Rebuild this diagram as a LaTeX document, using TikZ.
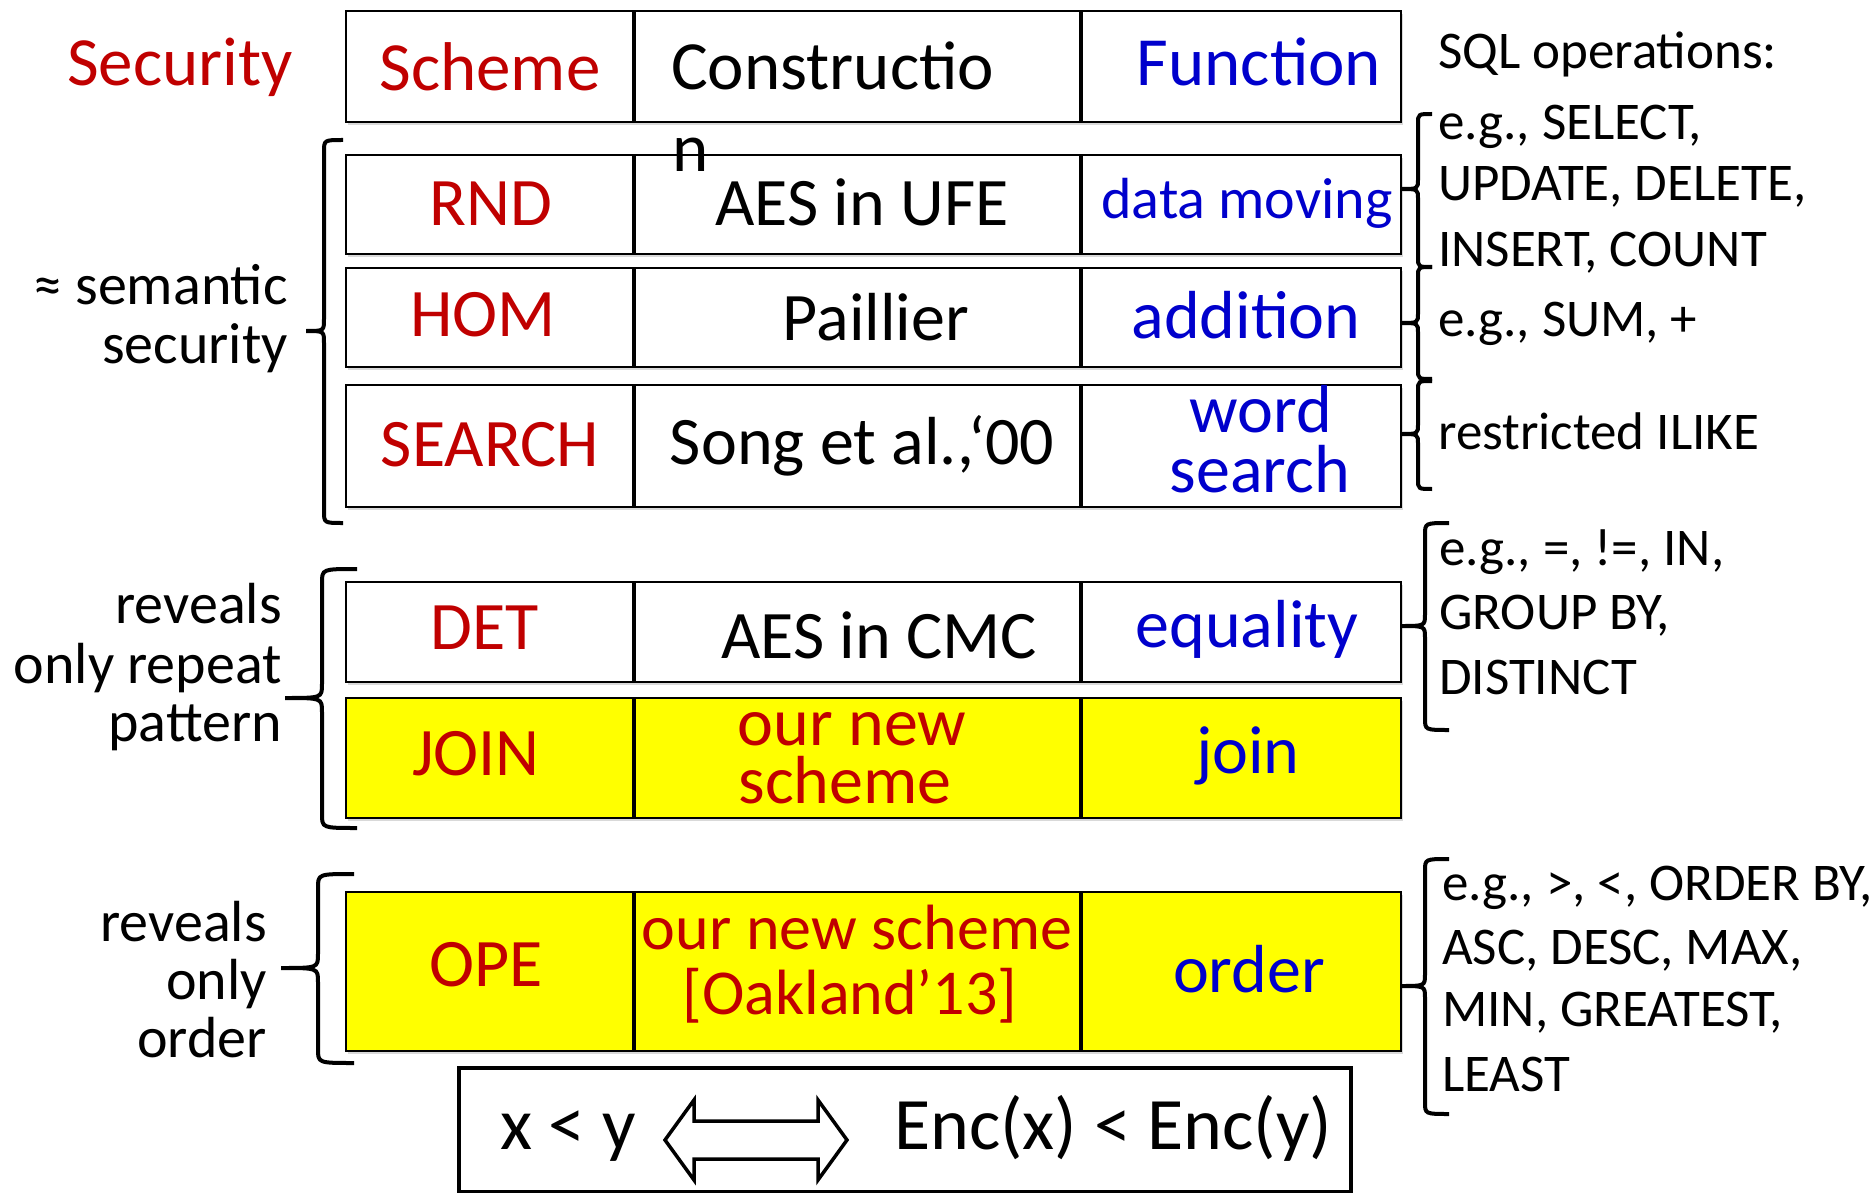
\documentclass[tikz,border=0pt]{standalone}
\usepackage{fontspec}
\setmainfont{Carlito}
\usetikzlibrary{shadows}
\definecolor{myred}{RGB}{192,0,0}
\definecolor{myblue}{RGB}{0,0,204}
\definecolor{myyellow}{RGB}{255,255,0}
\newcommand\bracepath[7]{% xend, xv, top, tipx, mid, bot, r
  \draw[bracestyle] (#1,#3) .. controls (#2,#3) .. (#2,{#3+#7}) -- (#2,{#5-#7})
    .. controls (#2,#5) .. (#4,#5) .. controls (#2,#5) .. (#2,{#5+#7})
    -- (#2,{#6-#7}) .. controls (#2,#6) .. (#1,#6);}
\begin{document}
\begin{tikzpicture}[x=1pt,y=-1pt,
  cell/.style={draw=black, line width=2pt, anchor=north west, inner sep=0pt, outer sep=0pt,
    drop shadow={shadow xshift=2pt, shadow yshift=-3pt, opacity=0.25, fill=black!60}},
  wcell/.style={cell, fill=white},
  ycell/.style={cell, fill=myyellow},
  divider/.style={line width=4.5pt, draw=black},
  bracestyle/.style={line width=4pt, draw=black},
  hdr/.style={inner sep=0pt, anchor=base, font=\fontsize{69}{83}\selectfont},
  big/.style={inner sep=0pt, anchor=base, font=\fontsize{68}{82}\selectfont},
  smallbig/.style={inner sep=0pt, anchor=base, font=\fontsize{64}{76}\selectfont},
  mid/.style={inner sep=0pt, anchor=base, font=\fontsize{58}{60}\selectfont},
  side/.style={inner sep=0pt, anchor=base east, font=\fontsize{58}{58}\selectfont},
  sql/.style={inner sep=0pt, anchor=base west, font=\fontsize{53}{62}\selectfont},
  bot/.style={inner sep=0pt, anchor=base west, font=\fontsize{74}{88}\selectfont},
]
\useasboundingbox (0,0) rectangle (1875,1193);

% ---------- table cells ----------
\node[wcell, minimum width=288pt, minimum height=111pt] (h1) at (346,11) {};
\node[wcell, minimum width=447pt, minimum height=111pt] (h2) at (634,11) {};
\node[wcell, minimum width=320pt, minimum height=111pt] (h3) at (1081,11) {};

\node[wcell, minimum width=288pt, minimum height=99pt] (a1) at (346,155) {};
\node[wcell, minimum width=447pt, minimum height=99pt] (a2) at (634,155) {};
\node[wcell, minimum width=320pt, minimum height=99pt] (a3) at (1081,155) {};

\node[wcell, minimum width=288pt, minimum height=99pt] (b1) at (346,268) {};
\node[wcell, minimum width=447pt, minimum height=99pt] (b2) at (634,268) {};
\node[wcell, minimum width=320pt, minimum height=99pt] (b3) at (1081,268) {};

\node[wcell, minimum width=288pt, minimum height=122pt] (c1) at (346,385) {};
\node[wcell, minimum width=447pt, minimum height=122pt] (c2) at (634,385) {};
\node[wcell, minimum width=320pt, minimum height=122pt] (c3) at (1081,385) {};

\node[wcell, minimum width=288pt, minimum height=100pt] (d1) at (346,582) {};
\node[wcell, minimum width=447pt, minimum height=100pt] (d2) at (634,582) {};
\node[wcell, minimum width=320pt, minimum height=100pt] (d3) at (1081,582) {};

\node[ycell, minimum width=288pt, minimum height=120pt] (e1) at (346,698) {};
\node[ycell, minimum width=447pt, minimum height=120pt] (e2) at (634,698) {};
\node[ycell, minimum width=320pt, minimum height=120pt] (e3) at (1081,698) {};

\node[ycell, minimum width=288pt, minimum height=159pt] (f1) at (346,892) {};
\node[ycell, minimum width=447pt, minimum height=159pt] (f2) at (634,892) {};
\node[ycell, minimum width=320pt, minimum height=159pt] (f3) at (1081,892) {};

\foreach \r in {h,a,b,c,d,e,f}{
  \draw[divider] (\r1.north east) -- (\r1.south east);
  \draw[divider] (\r2.north east) -- (\r2.south east);
}

% ---------- bottom box ----------
\node[draw=black, line width=4pt, fill=white, anchor=north west, inner sep=0pt,
      minimum width=892pt, minimum height=124pt] (bbox) at (457,1066) {};
\draw[line width=3.5pt, fill=white, line join=miter]
  (665,1140) -- (694,1100) -- (694,1121) -- (818,1121) -- (818,1100) -- (847,1140)
  -- (818,1180) -- (818,1159) -- (694,1159) -- (694,1180) -- cycle;
\node[bot] (xy) at (500,1149) {x < y};
\node[bot] (encxy) at (894,1149) {Enc(x) < Enc(y)};

% ---------- header texts ----------
\node[hdr, text=myred] (tsec) at (180,86) {Security};
\node[hdr, text=myred] (tsch) at (490,91) {Scheme};
\node[hdr, anchor=base west] (tcon) at (671,90) {Constructio};
\node[hdr, anchor=base west] (tconn) at (672,172) {n};
\node[hdr, text=myblue] (tfun) at (1259,86) {Function};

% ---------- row texts ----------
\node[big, text=myred] (trnd) at (491,226) {RND};
\node[big] (tufe) at (862,226) {AES in UFE};
\node[mid, text=myblue] (tdm) at (1247,219) {data moving};

\node[big, text=myred] (thom) at (483,336) {HOM};
\node[big] (tpai) at (876,340) {Paillier};
\node[big, text=myblue] (tadd) at (1246,338) {addition};

\node[big, text=myred] (tsea) at (490,466) {SEARCH};
\node[big] (tsong) at (862,464) {Song et al.,‘00};
\node[big, text=myblue] (tword) at (1261,432) {word};
\node[big, text=myblue] (tsrch) at (1260,492) {search};

\node[big, text=myred] (tdet) at (485,649) {DET};
\node[big] (tcmc) at (879,658) {AES in CMC};
\node[big, text=myblue] (teq) at (1247,647) {equality};

\node[big, text=myred] (tjoin) at (476,775) {JOIN};
\node[big, text=myred] (tonew) at (852,745) {our new};
\node[big, text=myred] (tosch) at (845,803) {scheme};
\node[big, text=myblue] (tjn) at (1248,773) {join};

\node[big, text=myred] (tope) at (486,986) {OPE};
\node[smallbig, text=myred] (tons) at (857,949) {our new scheme};
\node[smallbig, text=myred] (toak) at (850,1014) {[Oakland’13]};
\node[big, text=myblue] (tord) at (1249,992) {order};

% ---------- left side labels ----------
\node[side] (ls1) at (288,305) {≈ semantic};
\node[side] (ls2) at (288,363) {security};
\node[side] (lr1) at (282,623) {reveals};
\node[side] (lr2) at (282,683) {only repeat};
\node[side] (lr3) at (282,741) {pattern};
\node[side] (lo1) at (267,941) {reveals};
\node[side] (lo2) at (267,999) {only};
\node[side] (lo3) at (267,1057) {order};

% ---------- right side SQL labels ----------
\node[sql] (q0) at (1438,69) {SQL operations:};
\node[sql] (q1) at (1438,140) {e.g., SELECT,};
\node[sql] (q2) at (1438,201) {UPDATE, DELETE,};
\node[sql] (q3) at (1438,267) {INSERT, COUNT};
\node[sql] (q4) at (1438,336) {e.g., SUM, +};
\node[sql] (q5) at (1438,449) {restricted ILIKE};
\node[sql] (q6) at (1439,565) {e.g., =, !=, IN,};
\node[sql] (q7) at (1439,629) {GROUP BY,};
\node[sql] (q8) at (1439,694) {DISTINCT};
\node[sql] (q9) at (1442,900) {e.g., >, <, ORDER BY,};
\node[sql] (q10) at (1442,964) {ASC, DESC, MAX,};
\node[sql] (q11) at (1442,1026) {MIN, GREATEST,};
\node[sql] (q12) at (1442,1091) {LEAST};

% ---------- braces ----------
\bracepath{343}{324}{140}{306}{331}{523}{12}
\bracepath{357}{322}{569}{285}{698}{828}{14}
\bracepath{354}{318}{874}{281}{968}{1063}{14}
\bracepath{1432}{1418}{114}{1401}{189}{267}{10}
\bracepath{1432}{1418}{267}{1401}{323}{379}{10}
\bracepath{1432}{1418}{381}{1401}{434}{489}{10}
\bracepath{1449}{1425}{523}{1401}{626}{730}{12}
\bracepath{1449}{1425}{859}{1401}{986}{1114}{12}
\end{tikzpicture}
\end{document}
